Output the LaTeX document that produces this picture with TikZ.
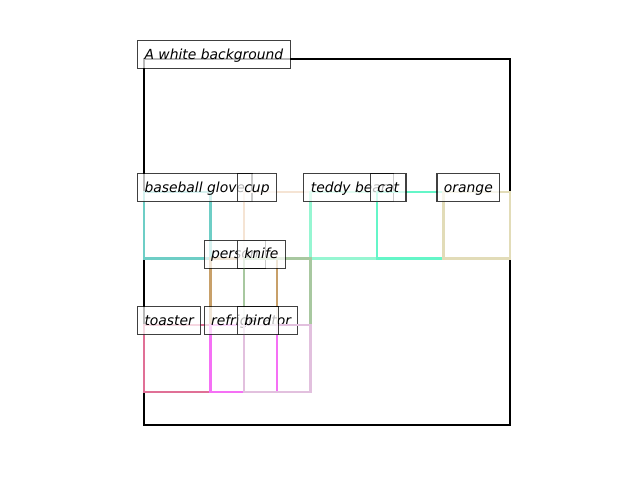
\documentclass[tikz,border=0pt]{standalone}
\usepackage{fontspec}
\setmainfont{DejaVu Sans}
\definecolor{cglove}{RGB}{110,206,198}
\definecolor{ccup}{RGB}{245,228,212}
\definecolor{cteddy}{RGB}{150,246,210}
\definecolor{ccat}{RGB}{100,246,200}
\definecolor{corange}{RGB}{226,220,184}
\definecolor{cperson}{RGB}{200,160,105}
\definecolor{cknife}{RGB}{168,200,160}
\definecolor{ctoaster}{RGB}{224,112,150}
\definecolor{cfridge}{RGB}{245,112,245}
\definecolor{cbird}{RGB}{226,192,222}
\newcommand\U{33.2727}
\newcommand\bbox[7]{%
  \draw[bb,#1] ({144+#2*\U},{59+#3*\U}) rectangle ({144+#4*\U},{59+#5*\U});
  \node[lbl] (#7) at ({144+#2*\U-7},{59+#3*\U-4.5}) {#6};}
\begin{document}
\begin{tikzpicture}[x=0.72pt,y=-0.72pt,
  lbl/.style={anchor=west, draw=black, draw opacity=0.75, fill=white, fill opacity=0.72,
    text opacity=1, line width=0.8pt, inner xsep=5pt, inner ysep=4.2pt,
    text height=9.3pt, text depth=2.4pt, font=\itshape\fontsize{10}{12}\selectfont},
  bb/.style={line width=1.7pt}]
\useasboundingbox (0,0) rectangle (640,480);
\draw[bb,black] (144,59) rectangle (510,425);
\node[lbl] (bg) at (137,54.5) {A white background};
\bbox{cglove}{0}{4}{2}{6}{baseball glove}{glove}
\bbox{ccup}{3}{4}{5}{6}{cup}{cup}
\bbox{cteddy}{5}{4}{7}{6}{teddy bear}{teddy}
\bbox{ccat}{7}{4}{9}{6}{cat}{cat}
\bbox{corange}{9}{4}{11}{6}{orange}{orange}
\bbox{cperson}{2}{6}{4}{8}{person}{person}
\bbox{cknife}{3}{6}{5}{8}{knife}{knife}
\bbox{ctoaster}{0}{8}{2}{10}{toaster}{toaster}
\bbox{cfridge}{2}{8}{4}{10}{refrigerator}{fridge}
\bbox{cbird}{3}{8}{5}{10}{bird}{bird}
\end{tikzpicture}
\end{document}
